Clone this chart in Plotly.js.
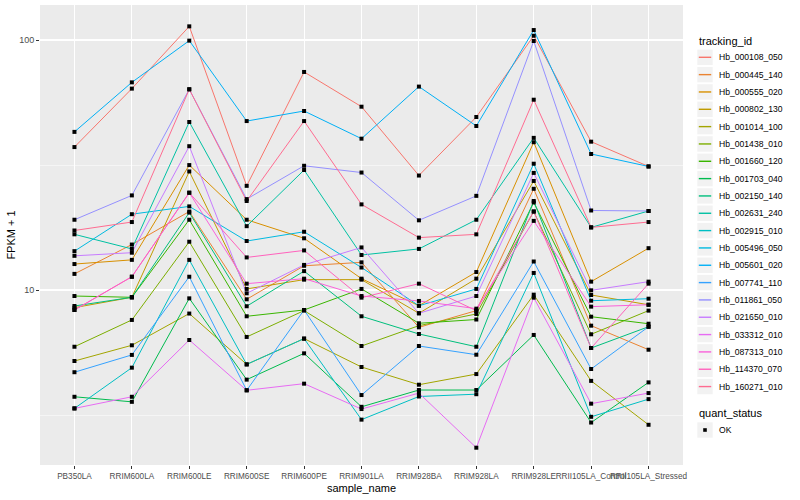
<!DOCTYPE html>
<html>
<head>
<meta charset="utf-8">
<script src="https://cdn.plot.ly/plotly-3.0.1.min.js"></script>
<style>html,body{margin:0;padding:0;background:#fff;}#chart{width:800px;height:500px;}</style>
</head>
<body>
<div id="chart"></div>
<script>
const samples = ["PB350LA","RRIM600LA","RRIM600LE","RRIM600SE","RRIM600PE","RRIM901LA","RRIM928BA","RRIM928LA","RRIM928LE","RRII105LA_Control","RRII105LA_Stressed"];
const trackingIds = ["Hb_000108_050","Hb_000445_140","Hb_000555_020","Hb_000802_130","Hb_001014_100","Hb_001438_010","Hb_001660_120","Hb_001703_040","Hb_002150_140","Hb_002631_240","Hb_002915_010","Hb_005496_050","Hb_005601_020","Hb_007741_110","Hb_011861_050","Hb_021650_010","Hb_033312_010","Hb_087313_010","Hb_114370_070","Hb_160271_010"];
const quantStatus = ["OK"];

const Hb_000108_050 = [37.3, 63.9, 113.4, 26.1, 74.5, 54.1, 28.7, 49.2, 104.0, 39.2, 31.2];
const Hb_000445_140 = [11.6, 15.2, 20.6, 9.18, 12.5, 12.9, 7.09, 8.27, 25.4, 7.20, 5.77];
const Hb_000555_020 = [12.7, 13.2, 31.6, 19.1, 16.1, 11.1, 8.65, 11.8, 39.0, 10.8, 14.7];
const Hb_000802_130 = [8.50, 9.35, 29.8, 10.1, 11.0, 11.0, 8.07, 11.1, 27.3, 9.55, 8.73];
const Hb_001014_100 = [5.20, 6.01, 8.05, 5.04, 6.39, 4.92, 4.18, 4.61, 9.58, 4.33, 2.89];
const Hb_001438_010 = [5.93, 7.59, 15.6, 6.49, 8.27, 5.97, 7.20, 8.02, 20.6, 6.65, 8.27];
const Hb_001660_120 = [9.46, 9.35, 19.1, 7.85, 8.32, 10.1, 7.36, 7.62, 22.4, 7.82, 7.33];
const Hb_001703_040 = [3.74, 3.57, 9.26, 4.38, 5.58, 3.41, 3.98, 3.98, 6.61, 2.95, 4.27];
const Hb_002150_140 = [8.63, 9.35, 20.4, 8.61, 11.9, 7.85, 6.67, 5.93, 22.7, 5.86, 7.13];
const Hb_002631_240 = [16.7, 14.6, 47.0, 18.0, 30.2, 13.8, 14.6, 19.1, 40.6, 17.8, 20.7];
const Hb_002915_010 = [3.36, 4.89, 13.2, 5.04, 6.39, 3.03, 3.75, 3.83, 11.7, 3.11, 3.66];
const Hb_005496_050 = [14.3, 20.1, 21.6, 15.7, 17.1, 12.3, 8.65, 10.1, 32.0, 9.06, 9.23];
const Hb_005601_020 = [42.9, 67.7, 99.4, 47.4, 52.0, 40.3, 65.1, 45.3, 109.6, 35.0, 31.2];
const Hb_007741_110 = [4.69, 5.50, 11.3, 3.97, 8.32, 3.80, 5.97, 5.51, 13.0, 4.83, 7.13];
const Hb_011861_050 = [19.1, 23.9, 63.5, 23.1, 31.4, 29.5, 19.0, 23.8, 99.1, 20.8, 20.7];
const Hb_021650_010 = [13.7, 14.1, 37.6, 9.70, 12.6, 14.8, 8.07, 9.46, 29.4, 9.97, 10.8];
const Hb_033312_010 = [3.36, 3.74, 6.31, 3.97, 4.22, 3.34, 3.87, 2.34, 9.32, 3.51, 3.87];
const Hb_087313_010 = [8.32, 11.3, 24.5, 10.6, 11.1, 9.46, 9.04, 8.42, 18.9, 8.58, 8.73];
const Hb_114370_070 = [8.32, 11.3, 24.5, 13.5, 14.4, 9.32, 10.6, 8.27, 20.6, 5.86, 10.6];
const Hb_160271_010 = [17.3, 18.7, 63.5, 22.7, 47.4, 22.0, 16.2, 16.7, 57.7, 17.8, 18.7];

const seriesValues = [Hb_000108_050, Hb_000445_140, Hb_000555_020, Hb_000802_130, Hb_001014_100, Hb_001438_010, Hb_001660_120, Hb_001703_040, Hb_002150_140, Hb_002631_240, Hb_002915_010, Hb_005496_050, Hb_005601_020, Hb_007741_110, Hb_011861_050, Hb_021650_010, Hb_033312_010, Hb_087313_010, Hb_114370_070, Hb_160271_010];
const colors = ["#F8766D","#EA8331","#D89000","#C09B00","#A3A500","#7CAE00","#39B600","#00BB4E","#00BF7D","#00C1A3","#00BFC4","#00BAE0","#00B0F6","#35A2FF","#9590FF","#C77CFF","#E76BF3","#FA62DB","#FF62BC","#FF6C91"];

const FONT = "Liberation Sans, Arial, Helvetica, sans-serif";
const W = 800, H = 500, ML = 40, MR = 117, MT = 5, MB = 35;
const PW = W - ML - MR, PH = H - MT - MB;
const fx = p => (p - ML) / PW;          // pixel x -> paper x
const fy = p => (H - MB - p) / PH;      // pixel y -> paper y

const traces = [];
trackingIds.forEach((id, i) => {
  traces.push({
    type: "scatter", mode: "lines", x: samples, y: seriesValues[i], name: id,
    line: {color: colors[i], width: 1}, hoverinfo: "skip", showlegend: false
  });
});
const px = [], py = [];
seriesValues.forEach(v => v.forEach((val, j) => { px.push(samples[j]); py.push(val); }));
traces.push({
  type: "scatter", mode: "markers", x: px, y: py, name: quantStatus[0],
  marker: {color: "#000", size: 4, symbol: "square"}, hoverinfo: "skip", showlegend: false
});

// custom ggplot-style legends
const shapes = [], annotations = [];
const keyX0 = 697.3, keyS = 15.4, step = 17.33, firstY = 57.3, textX = 717;
annotations.push({xref: "paper", yref: "paper", x: fx(697), y: fy(40.5), xanchor: "left", yanchor: "middle",
  text: "tracking_id", showarrow: false, font: {size: 11, color: "#000", family: FONT}});
trackingIds.forEach((id, i) => {
  const cy = firstY + i * step;
  shapes.push({type: "rect", xref: "paper", yref: "paper", x0: fx(keyX0), x1: fx(keyX0 + keyS),
    y0: fy(cy - keyS / 2), y1: fy(cy + keyS / 2), fillcolor: "#F2F2F2", line: {width: 0}, layer: "above"});
  shapes.push({type: "line", xref: "paper", yref: "paper", x0: fx(keyX0 + 1.5), x1: fx(keyX0 + keyS - 1.5),
    y0: fy(cy), y1: fy(cy), line: {color: colors[i], width: 1.4}, layer: "above"});
  annotations.push({xref: "paper", yref: "paper", x: fx(textX), y: fy(cy), xanchor: "left", yanchor: "middle",
    text: id, showarrow: false, font: {size: 8.6, color: "#000", family: FONT}});
});
annotations.push({xref: "paper", yref: "paper", x: fx(697), y: fy(413), xanchor: "left", yanchor: "middle",
  text: "quant_status", showarrow: false, font: {size: 11, color: "#000", family: FONT}});
shapes.push({type: "rect", xref: "paper", yref: "paper", x0: fx(keyX0), x1: fx(keyX0 + keyS),
  y0: fy(430 - keyS / 2), y1: fy(430 + keyS / 2), fillcolor: "#F2F2F2", line: {width: 0}, layer: "above"});
shapes.push({type: "rect", xref: "paper", yref: "paper", x0: fx(keyX0 + keyS / 2 - 1.8), x1: fx(keyX0 + keyS / 2 + 1.8),
  y0: fy(430 - 1.8), y1: fy(430 + 1.8), fillcolor: "#000", line: {width: 0}, layer: "above"});
annotations.push({xref: "paper", yref: "paper", x: fx(textX), y: fy(430), xanchor: "left", yanchor: "middle",
  text: quantStatus[0], showarrow: false, font: {size: 8.6, color: "#000", family: FONT}});

const layout = {
  width: W, height: H,
  margin: {l: ML, r: MR, t: MT, b: MB},
  paper_bgcolor: "#fff", plot_bgcolor: "#EBEBEB",
  font: {family: FONT, color: "#4D4D4D", size: 9},
  showlegend: false,
  xaxis: {
    type: "category", categoryorder: "array", categoryarray: samples,
    range: [-0.6, 10.6], tickangle: 0,
    showgrid: true, gridcolor: "#FFFFFF", gridwidth: 1.1,
    ticks: "outside", ticklen: 3, tickcolor: "#333333", tickwidth: 1,
    tickfont: {size: 8.2, color: "#4D4D4D", family: FONT},
    zeroline: false, showline: false,
    title: {text: "sample_name", font: {size: 11, color: "#000", family: FONT}, standoff: 4}
  },
  yaxis: {
    type: "log", range: [0.3, 2.14],
    tickvals: [10, 100], ticktext: ["10", "100"],
    showgrid: true, gridcolor: "#FFFFFF", gridwidth: 1.1,
    minor: {tickvals: [3.1623, 31.623], showgrid: true, gridcolor: "#FFFFFF", gridwidth: 0.5, ticklen: 0},
    ticks: "outside", ticklen: 3, tickcolor: "#333333", tickwidth: 1,
    tickfont: {size: 9, color: "#4D4D4D", family: FONT},
    zeroline: false, showline: false,
    title: {text: "FPKM + 1", font: {size: 11, color: "#000", family: FONT}, standoff: 1}
  },
  shapes: shapes,
  annotations: annotations
};
Plotly.newPlot("chart", traces, layout, {displayModeBar: false, staticPlot: true});
</script>
</body>
</html>
